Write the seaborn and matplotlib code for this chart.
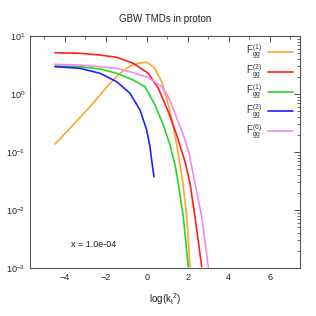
import numpy as np
import pandas as pd
import matplotlib
matplotlib.use("Agg")
import matplotlib.pyplot as plt
import seaborn as sns
from matplotlib.ticker import LogLocator, MultipleLocator, NullFormatter

# valores: x = log(kt^2), y em log10(F)
orange_x = [-4.478, -3.746, -2.771, -1.795, -1.307, -0.820, -0.415, -0.005, 0.400, 0.727, 0.971, 1.215, 1.434, 1.620, 1.766, 1.946, 2.107]
orange_y = [-0.862, -0.591, -0.219, 0.184, 0.357, 0.483, 0.529, 0.547, 0.443, 0.212, -0.074, -0.419, -0.822, -1.224, -1.552, -2.116, -2.978]

red_x = [-4.478, -3.259, -2.283, -1.468, -0.659, 0.073, 0.561, 1.049, 1.459, 1.863, 2.107, 2.351, 2.678]
red_y = [0.712, 0.702, 0.672, 0.633, 0.529, 0.357, 0.098, -0.305, -0.707, -1.167, -1.540, -2.116, -2.978]

green_x = [-4.478, -3.259, -2.283, -1.468, -0.659, -0.088, 0.400, 0.805, 1.132, 1.376, 1.537, 1.780, 2.024]
green_y = [0.483, 0.471, 0.431, 0.357, 0.241, 0.126, -0.190, -0.534, -0.879, -1.224, -1.540, -2.116, -2.978]

blue_x = [-4.478, -3.259, -2.283, -1.468, -0.820, -0.332, -0.005, 0.156, 0.268, 0.351]
blue_y = [0.471, 0.443, 0.357, 0.212, 0.012, -0.276, -0.621, -0.914, -1.224, -1.426]

pink_x = [-4.478, -3.259, -2.283, -1.468, -0.659, 0.073, 0.727, 1.049, 1.376, 1.780, 2.024, 2.351, 2.678, 3.0]
pink_y = [0.512, 0.500, 0.471, 0.443, 0.367, 0.284, 0.126, -0.047, -0.333, -0.707, -0.966, -1.540, -2.116, -2.978]

series_names = ["f1_ww", "f2_ww", "f1_dp", "f2_dp", "f6"]
series_labels = [r"F$^{(1)}_{gg}$", r"F$^{(2)}_{gg}$", r"F$^{(1)}_{gg}$", r"F$^{(2)}_{gg}$", r"F$^{(6)}_{gg}$"]
series_colors = ["#FFA62B", "#FF2020", "#22D822", "#2020FF", "#F08CF0"]

xs = [orange_x, red_x, green_x, blue_x, pink_x]
ys = [orange_y, red_y, green_y, blue_y, pink_y]

frames = []
for nome, x, y in zip(series_names, xs, ys):
    frames.append(pd.DataFrame({"logk2": x, "F": 10 ** np.array(y), "serie": nome}))
dados = pd.concat(frames, ignore_index=True)

sns.set_style("white")
plt.rcParams["font.family"] = ["Liberation Sans", "DejaVu Sans"]
plt.rcParams["mathtext.fontset"] = "custom"
plt.rcParams["mathtext.rm"] = "Liberation Sans"
plt.rcParams["mathtext.it"] = "Liberation Sans"

fig = plt.figure(figsize=(3.16, 3.16), dpi=100)
ax = fig.add_axes([0.095, 0.152, 0.854, 0.734])

sns.lineplot(data=dados, x="logk2", y="F", hue="serie", hue_order=series_names,
             palette=series_colors, sort=False, estimator=None, linewidth=1.2,
             legend=False, ax=ax)

ax.set_yscale("log")
ax.set_xlim(-5.70, 7.47)
ax.set_ylim(1e-3, 1e1)

ax.xaxis.set_major_locator(MultipleLocator(2))
ax.xaxis.set_minor_locator(MultipleLocator(1))
ax.yaxis.set_major_locator(LogLocator(base=10))
ax.yaxis.set_minor_locator(LogLocator(base=10, subs=np.arange(2, 10)))
ax.yaxis.set_minor_formatter(NullFormatter())

ax.tick_params(which="both", direction="in", top=True, right=True, colors="#333333",
               labelsize=6.5, labelcolor="#222222")
ax.tick_params(which="major", length=4, width=0.6)
ax.tick_params(which="minor", length=2, width=0.5)
for s in ax.spines.values():
    s.set_color("#555555")
    s.set_linewidth(0.8)

ax.set_xlabel(r"log(k$_t$$^2$)", fontsize=7, color="#222222", labelpad=7)
ax.set_ylabel("")
ax.set_title("GBW TMDs in proton", fontsize=7, color="#222222", pad=10)
ax.text(-3.7, 10 ** -2.6, "x = 1.0e-04", fontsize=6.5, color="#222222", va="center")

linhas = ax.get_lines()
leg = ax.legend(linhas, series_labels, loc="upper right", markerfirst=False,
                frameon=False, fontsize=7, handlelength=2.6, labelspacing=0.05,
                handletextpad=0.6, borderaxespad=0.3)
for t in leg.get_texts():
    t.set_color("#333333")

fig.savefig("out.png", dpi=100)
